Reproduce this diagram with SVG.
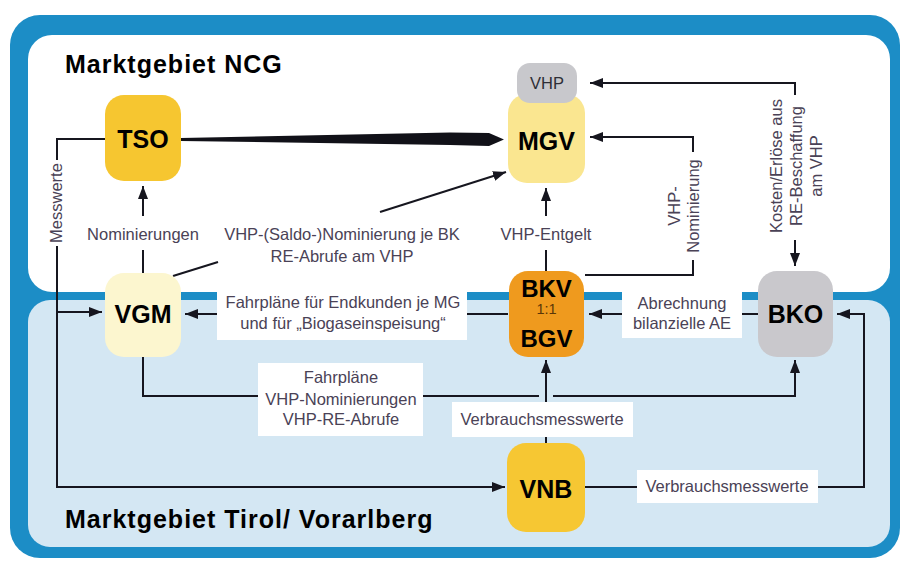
<svg xmlns="http://www.w3.org/2000/svg" width="907" height="561" viewBox="0 0 907 561">
<defs>
<marker id="ah" viewBox="0 0 13 10" refX="13" refY="5" markerWidth="13" markerHeight="10" markerUnits="userSpaceOnUse" orient="auto">
<path d="M0,0 L13,5 L0,10 z" fill="#16161f"/>
</marker>
<style>
.ln{fill:none;stroke:#16161f;stroke-width:2}
.arr{marker-end:url(#ah)}
.lbl{font-family:"Liberation Sans",Arial,sans-serif;font-size:16.5px;fill:#4a4256;text-anchor:middle}
.box{fill:#ffffff}
.node{font-family:"Liberation Sans",Arial,sans-serif;font-weight:bold;font-size:25px;fill:#000;text-anchor:middle}
.head{font-family:"Liberation Sans",Arial,sans-serif;font-weight:bold;font-size:25px;letter-spacing:1px;fill:#000}
</style>
</defs>
<rect x="0" y="0" width="907" height="561" fill="#ffffff"/>
<rect x="10" y="15" width="890" height="543" rx="30" fill="#1c8dc6"/>
<rect x="28" y="35" width="862" height="257" rx="24" fill="#ffffff"/>
<rect x="28" y="300" width="862" height="247" rx="22" fill="#d4e7f3"/>
<text class="head" x="65" y="73">Marktgebiet NCG</text>
<text class="head" x="65" y="528">Marktgebiet Tirol/ Vorarlberg</text>

<g id="connectors">
<polygon points="181,138 450,132.5 489,133 504,139.5 489,146 450,145 181,141" fill="#111118"/>
<path class="ln" d="M105,139 H57 V160"/>
<path class="ln arr" d="M57,246 V487 H505"/>
<path class="ln arr" d="M57,312 H102"/>
<path class="ln" d="M143,273 V250"/>
<path class="ln arr" d="M143,216 V186"/>
<path class="ln" d="M173,276 L218,262"/>
<path class="ln arr" d="M380,212 L506,172"/>
<path class="ln" d="M546,272 V250"/>
<path class="ln arr" d="M546,216 V188"/>
<path class="ln" d="M585,275 H693 V260"/>
<path class="ln arr" d="M693,152 V137 H590"/>
<path class="ln arr" d="M795,95 V83 H590"/>
<path class="ln arr" d="M795,240 V266"/>
<path class="ln arr" d="M508,314 H185"/>
<path class="ln arr" d="M758,314 H589"/>
<path class="ln" d="M143,357 V396 H539"/>
<path class="ln arr" d="M553,396 H795 V360"/>
<path class="ln arr" d="M546,443 V360"/>
<path class="ln arr" d="M585,487 H864 V314 H837"/>

<text class="lbl" transform="translate(62,203) rotate(-90)">Messwerte</text>
<text class="lbl" x="143" y="240">Nominierungen</text>
<text class="lbl" x="342" y="240">VHP-(Saldo-)Nominierung je BK</text>
<text class="lbl" x="342" y="262">RE-Abrufe am VHP</text>
<text class="lbl" x="546" y="240">VHP-Entgelt</text>
<text class="lbl" transform="translate(680,206) rotate(-90)"><tspan x="0" y="0">VHP-</tspan><tspan x="0" y="19">Nominierung</tspan></text>
<text class="lbl" transform="translate(782,166) rotate(-90)"><tspan x="0" y="0">Kosten/Erlöse aus</tspan><tspan x="0" y="20">RE-Beschaffung</tspan><tspan x="0" y="40">am VHP</tspan></text>

<rect class="box" x="217" y="292" width="250" height="48"/>
<text class="lbl" x="343" y="308">Fahrpläne für Endkunden je MG</text>
<text class="lbl" x="343" y="329">und für „Biogaseinspeisung“</text>
<rect class="box" x="622" y="292" width="120" height="46"/>
<text class="lbl" x="682" y="309">Abrechnung</text>
<text class="lbl" x="682" y="329">bilanzielle AE</text>
<rect class="box" x="258" y="363" width="165" height="73"/>
<text class="lbl" x="341" y="383">Fahrpläne</text>
<text class="lbl" x="341" y="405">VHP-Nominierungen</text>
<text class="lbl" x="341" y="425">VHP-RE-Abrufe</text>
<rect class="box" x="452" y="402" width="181" height="35"/>
<text class="lbl" x="542" y="425">Verbrauchsmesswerte</text>
<rect class="box" x="637" y="470" width="181" height="33"/>
<text class="lbl" x="727" y="492">Verbrauchsmesswerte</text>
</g>

<g id="TSO">
<rect x="105" y="95" width="76" height="86" rx="19" fill="#f6c630"/>
<text class="node" x="143" y="148">TSO</text>
</g>
<g id="MGV">
<rect x="508" y="94" width="77" height="89" rx="19" fill="#fae690"/>
<text class="node" x="546.5" y="150">MGV</text>
</g>
<g id="VHP">
<rect x="517" y="63" width="60" height="40" rx="13" fill="#c8c8cc"/>
<text class="lbl" x="547" y="89" style="fill:#2e2e36">VHP</text>
</g>
<g id="VGM">
<rect x="105" y="273" width="76" height="84" rx="19" fill="#fcf6cf"/>
<text class="node" x="143" y="323">VGM</text>
</g>
<g id="BKV">
<rect x="509" y="271" width="75" height="86" rx="19" fill="#ef9a1e"/>
<text class="node" x="546.5" y="297" style="font-size:24px">BKV</text>
<text x="546.5" y="314" text-anchor="middle" font-family="Liberation Sans, Arial, sans-serif" font-size="14.5" fill="#5a3608">1:1</text>
<text class="node" x="546.5" y="347" style="font-size:24px">BGV</text>
</g>
<g id="BKO">
<rect x="758" y="271" width="75" height="86" rx="19" fill="#c9c8cc"/>
<text class="node" x="795.5" y="323">BKO</text>
</g>
<g id="VNB">
<rect x="507" y="443" width="78" height="89" rx="19" fill="#f6c733"/>
<text class="node" x="546" y="498">VNB</text>
</g>
</svg>
